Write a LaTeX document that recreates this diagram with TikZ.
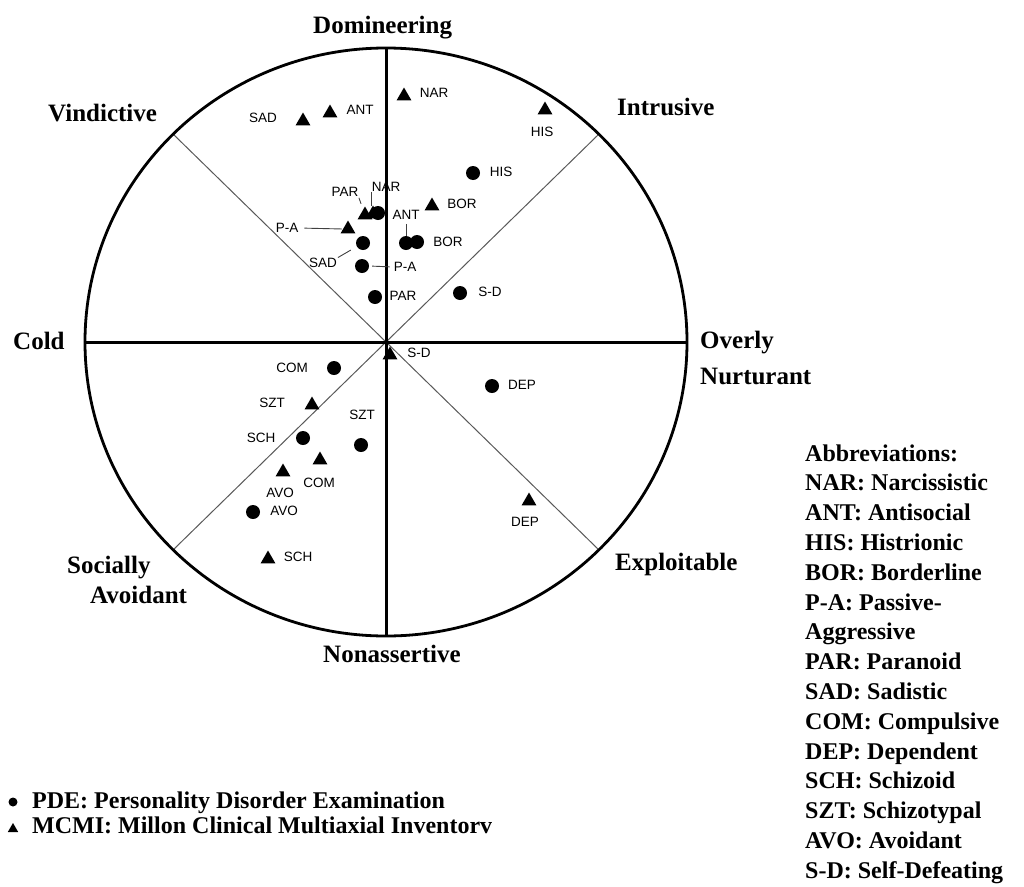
\documentclass[tikz,border=0pt]{standalone}
\usepackage{fontspec}
\setmainfont{Liberation Serif}
\newfontfamily\labfont{Liberation Sans}
\usetikzlibrary{shapes.geometric}
\begin{document}
\begin{tikzpicture}[x=1pt,y=-1pt,
  tri/.style={regular polygon, regular polygon sides=3, fill=black, draw=none, inner sep=0pt, minimum size=17pt},
  dot/.style={circle, fill=black, draw=none, inner sep=0pt, minimum size=14pt},
  lab/.style={font=\labfont\fontsize{13.5}{14}\selectfont, inner sep=0pt},
  axl/.style={font=\bfseries\fontsize{25}{28}\selectfont, inner sep=0pt, anchor=base west},
  txl/.style={axl, font=\bfseries\fontsize{24}{28}\selectfont},
  lead/.style={draw=black!75, line width=0.9pt},
  axis/.style={line width=3pt},
  diag/.style={line width=1pt, draw=black!65}]
\useasboundingbox (0,0) rectangle (1024,886);

% frame of the circumplex
\coordinate (C) at (386,342);
\coordinate (T) at (386,48);
\coordinate (B) at (386,636);
\coordinate (L) at (85,342);
\coordinate (R) at (687,342);
\coordinate (UL) at (173,134);
\coordinate (UR) at (599,134);
\coordinate (LL) at (173,550);
\coordinate (LR) at (599,550);
\draw[diag] (UL) -- (LR);
\draw[diag] (UR) -- (LL);
\draw[axis] (T) -- (B);
\draw[axis] (L) -- (R);
\draw[line width=2.8pt] (C) ellipse [x radius=301pt, y radius=294pt];

% octant labels
\node[axl] (dom) at (313,33) {Domineering};
\node[axl] (vin) at (48,121) {Vindictive};
\node[axl] (int) at (617,115) {Intrusive};
\node[axl] (cold) at (13,349) {Cold};
\node[axl] (ov1) at (700,348) {Overly};
\node[axl] (ov2) at (700,384) {Nurturant};
\node[axl] (soc1) at (67,573) {Socially};
\node[axl] (soc2) at (90,603) {Avoidant};
\node[axl] (exp) at (615,570) {Exploitable};
\node[axl] (non) at (323,662) {Nonassertive};

% MCMI (triangles)
\node[tri] (tNAR) at (404,96) {};
\node[lab] (ltNAR) at (434,93) {NAR};
\node[tri] (tANT) at (330,113) {};
\node[lab] (ltANT) at (360,110) {ANT};
\node[tri] (tSAD) at (303,121) {};
\node[lab] (ltSAD) at (263,118) {SAD};
\node[tri] (tHIS) at (545,110) {};
\node[lab] (ltHIS) at (542,132) {HIS};
\node[tri] (tBOR) at (432,206) {};
\node[lab] (ltBOR) at (462,204) {BOR};
\node[tri] (tPAR) at (365,215) {};
\node[tri] (tNAR2) at (373,214) {};
\node[lab] (ltPAR) at (345,192) {PAR};
\node[tri] (tPA) at (348,229) {};
\node[lab] (ltPA) at (287,228) {P-A};
\node[tri] (tSD) at (390,355) {};
\node[lab] (ltSD) at (419,353) {S-D};
\node[tri] (tSZT) at (312,405) {};
\node[lab] (ltSZT) at (272,403) {SZT};
\node[tri] (tCOM) at (320,460) {};
\node[lab] (ltCOM) at (319,483) {COM};
\node[tri] (tAVO) at (283,472) {};
\node[lab] (ltAVO) at (280,493) {AVO};
\node[tri] (tSCH) at (268,559) {};
\node[lab] (ltSCH) at (298,557) {SCH};
\node[tri] (tDEP) at (529,501) {};
\node[lab] (ltDEP) at (525,522) {DEP};

% PDE (circles)
\node[dot] (cHIS) at (473,173) {};
\node[lab] (lcHIS) at (501,172) {HIS};
\node[dot] (cNAR) at (378,213) {};
\node[lab] (lcNAR) at (386,187) {NAR};
\node[dot] (cANT) at (406,243) {};
\node[lab] (lcANT) at (406,215) {ANT};
\node[dot] (cBOR) at (417,242) {};
\node[lab] (lcBOR) at (448,242) {BOR};
\node[dot] (cSAD) at (363,243) {};
\node[lab] (lcSAD) at (323,263) {SAD};
\node[dot] (cPA) at (362,266) {};
\node[lab] (lcPA) at (405,267) {P-A};
\node[dot] (cPAR) at (375,297) {};
\node[lab] (lcPAR) at (403,296) {PAR};
\node[dot] (cSD) at (460,293) {};
\node[lab] (lcSD) at (490,292) {S-D};
\node[dot] (cCOM) at (334,368) {};
\node[lab] (lcCOM) at (292,368) {COM};
\node[dot] (cDEP) at (492,386) {};
\node[lab] (lcDEP) at (522,385) {DEP};
\node[dot] (cSZT) at (361,445) {};
\node[lab] (lcSZT) at (362,415) {SZT};
\node[dot] (cSCH) at (303,438) {};
\node[lab] (lcSCH) at (261,438) {SCH};
\node[dot] (cAVO) at (253,512) {};
\node[lab] (lcAVO) at (284,511) {AVO};

% leader lines
\draw[lead] (ltPAR.south east) -- (tPAR) [shorten <=1pt, shorten >=6pt];
\draw[lead] (lcNAR.south west) -- (lcNAR.south west |- cNAR.north);
\draw[lead] (ltPA.east) -- (tPA.west) [shorten <=6pt, shorten >=1pt];
\draw[lead] (lcSAD.north east) -- (cSAD) [shorten <=1pt, shorten >=7pt];
\draw[lead] (lcPA.west) -- (cPA.east) [shorten <=4pt, shorten >=3pt];
\draw[lead] (lcANT.south) -- (cANT.north) [shorten <=4pt];

% abbreviations
\foreach \t [count=\i] in {Abbreviations:, NAR: Narcissistic, ANT: Antisocial, HIS: Histrionic, BOR: Borderline, P-A: Passive-, Aggressive, PAR: Paranoid, SAD: Sadistic, COM: Compulsive, DEP: Dependent, SCH: Schizoid, SZT: Schizotypal, AVO: Avoidant, S-D: Self-Defeating}
  \node[txl] (ab\i) at (805,{461+29.8*(\i-1)}) {\t};

% legend
\node[dot, minimum size=9pt] (kdot) at (13,802) {};
\node[txl] (kPDE) at (32,808) {PDE: Personality Disorder Examination};
\node[tri, minimum size=12pt] (ktri) at (13,829) {};
\node[txl] (kMCMI) at (32,833) {MCMI: Millon Clinical Multiaxial Inventorv};
\end{tikzpicture}
\end{document}
